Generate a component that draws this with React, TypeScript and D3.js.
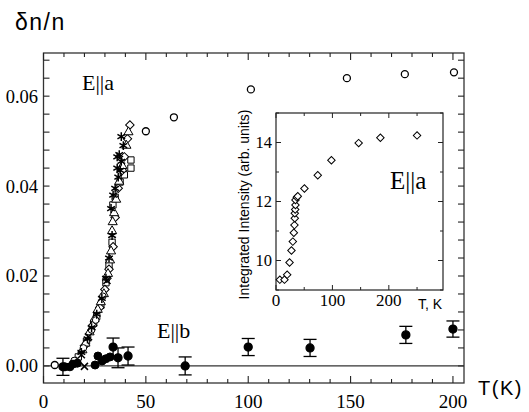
import React, { useEffect } from 'react';
import * as d3 from 'd3';

// main panel, E||a, open circles (T in K, dn/n)
const aCircles: [number, number][] = [
  [5.5, 0.0002], [50.0, 0.0522], [63.7, 0.0553], [101.3, 0.0615],
  [148.2, 0.064], [176.5, 0.0649], [200.5, 0.0653],
];
// steep part of E||a, several sample runs drawn with different symbols
const aTriangles: [number, number][] = [
  [14.5, 0.0008], [19.0, 0.0035], [20.5, 0.005], [22.5, 0.0075], [25.0, 0.0105],
  [26.5, 0.0125], [28.0, 0.0142], [29.5, 0.016], [31.5, 0.0205], [32.5, 0.0235],
  [33.0, 0.0255], [33.5, 0.03], [33.8, 0.032], [34.5, 0.034], [35.5, 0.037],
  [37.0, 0.041], [38.5, 0.0445], [40.5, 0.049], [41.5, 0.052],
];
const aSquares: [number, number][] = [
  [17.0, 0.002], [21.0, 0.0055], [24.5, 0.0095], [26.0, 0.011], [28.0, 0.0135],
  [30.5, 0.0185], [32.0, 0.0225], [33.5, 0.0275], [33.9, 0.0358], [35.0, 0.0375],
  [37.4, 0.0409], [39.5, 0.0425], [42.7, 0.044], [42.7, 0.0458],
];
const aDiamonds: [number, number][] = [
  [16.0, 0.001], [20.0, 0.0045], [24.0, 0.009], [27.5, 0.013], [30.0, 0.017],
  [31.0, 0.0195], [32.0, 0.0215], [34.0, 0.0265], [35.0, 0.033], [36.5, 0.0395],
  [38.5, 0.0435], [39.5, 0.0465], [41.0, 0.0505], [42.2, 0.0536],
];
const aSmallCircles: [number, number][] = [
  [15.0, 0.0012], [19.5, 0.004], [23.5, 0.008], [25.5, 0.0102], [29.0, 0.0155],
];
const aCrosses: [number, number][] = [
  [18.5, 0.0025], [20.0, -0.0001], [22.0, 0.0065], [31.0, 0.019],
];
const aStars: [number, number][] = [
  [18.5, 0.003], [21.5, 0.006], [23.5, 0.0085], [26.0, 0.0115], [28.5, 0.015],
  [30.5, 0.0195], [32.0, 0.024], [33.5, 0.029], [33.0, 0.035], [34.0, 0.038],
  [35.0, 0.0395], [36.5, 0.042], [36.0, 0.044], [38.0, 0.0455], [37.0, 0.047],
  [39.0, 0.049], [38.0, 0.051], [36.0, 0.0465], [37.5, 0.0435],
];

// E||b, filled circles without and with error bars
const bDots: [number, number][] = [
  [10.5, -0.0002], [12.9, -0.0002], [14.4, 0.0004], [16.5, 0.0006], [25.2, 0.0002],
  [26.6, 0.0022], [28.6, 0.0011], [30.5, 0.0016], [32.5, 0.002],
];
const bBars: [number, number, number][] = [
  [9.5, -0.0002, 0.0019], [34.0, 0.0042, 0.002], [36.4, 0.0018, 0.0022],
  [41.3, 0.0022, 0.002], [69.2, 0.0, 0.002], [100.0, 0.0042, 0.0019],
  [130.2, 0.004, 0.0019], [177.0, 0.0069, 0.0019], [200.0, 0.0082, 0.0018],
];

// inset: integrated intensity vs T
const insetT = [6.8, 15, 19.8, 24, 27.4, 29.8, 31.6, 32.7, 33.3, 33.3, 34, 34.5, 34.5, 36.9, 38.6, 50.4, 74, 98.2, 146.5, 185, 250];
const insetI = [9.35, 9.35, 9.52, 9.93, 10.34, 10.64, 10.94, 11.2, 11.43, 11.6, 11.73, 11.88, 12.05, 12.14, 12.18, 12.44, 12.89, 13.4, 13.98, 14.16, 14.24];

const mainXTicks = [0, 50, 100, 150, 200];
const mainYTicks = [0, 0.02, 0.04, 0.06];
const insetXTicks = [0, 100, 200];
const insetYTicks = [10, 12, 14];

const serif = 'Liberation Serif, Times New Roman, serif';
const sans = 'Liberation Sans, Arial, sans-serif';

export default function App() {
  useEffect(() => {
    document.body.style.margin = '0';
  }, []);

  const x = d3.scaleLinear().domain([0, 205.4]).range([43.5, 464]);
  const y = d3.scaleLinear().domain([-0.0038, 0.0696]).range([383, 53]);
  const ix = d3.scaleLinear().domain([0, 296]).range([276, 443]);
  const iy = d3.scaleLinear().domain([9, 15]).range([290, 113]);

  const tri = d3.symbol().type(d3.symbolTriangle).size(36)() as string;
  const sq = d3.symbol().type(d3.symbolSquare).size(40)() as string;
  const dia = d3.symbol().type(d3.symbolSquare).size(36)() as string;
  const star = d3.symbol().type(d3.symbolAsterisk).size(55)() as string;
  const cross = d3.symbol().type(d3.symbolTimes).size(34)() as string;
  const insetDia = d3.symbol().type(d3.symbolSquare).size(28)() as string;

  const [x0, x1] = x.range();
  const [y0, y1] = y.range();
  const minorX = d3.range(0, 206, 10);
  const minorY = d3.range(-0.004, 0.07, 0.004).filter(v => v >= -0.0038);
  const [ix0, ix1] = ix.range();
  const [iy0, iy1] = iy.range();

  return (
    <svg width={529} height={412} style={{ display: 'block', background: '#fff' }}>
      {/* frame */}
      <rect x={x0} y={y1} width={x1 - x0} height={y0 - y1} fill="none" stroke="#333" strokeWidth={1.3} />
      {minorX.map(t => {
        const big = t % 50 === 0;
        const l = big ? 7 : 4;
        return (
          <g key={'tx' + t} stroke="#222" strokeWidth={1.1}>
            <line x1={x(t)} x2={x(t)} y1={y0} y2={y0 - l} />
            <line x1={x(t)} x2={x(t)} y1={y1} y2={y1 + l} />
          </g>
        );
      })}
      {minorY.map((v, i) => (
        <g key={'ty' + i} stroke="#222" strokeWidth={1.1}>
          <line x1={x0} x2={x0 + 6} y1={y(v)} y2={y(v)} />
          <line x1={x1} x2={x1 - 6} y1={y(v)} y2={y(v)} />
        </g>
      ))}
      {mainXTicks.map(t => (
        <text key={'lx' + t} x={x(t)} y={408} fontFamily={serif} fontSize={19} textAnchor="middle">{t}</text>
      ))}
      {mainYTicks.map(v => (
        <text key={'ly' + v} x={38} y={y(v)} dy="0.35em" fontFamily={serif} fontSize={18.5} textAnchor="end">{v.toFixed(2)}</text>
      ))}
      <line x1={x0} x2={x1} y1={y(0)} y2={y(0)} stroke="#333" strokeWidth={1.3} />

      <text x={15} y={30} fontFamily={sans} fontSize={23} letterSpacing={1.5}>δn/n</text>
      <text x={478} y={395} fontFamily={sans} fontSize={20} letterSpacing={1.5}>T(K)</text>
      <text x={82} y={90} fontFamily={serif} fontSize={22}>E||a</text>
      <text x={157} y={338} fontFamily={serif} fontSize={22}>E||b</text>

      {/* E||a data */}
      <g fill="#fff" stroke="#000" strokeWidth={1}>
        {aSquares.map((d, i) => <path key={'s' + i} d={sq} transform={`translate(${x(d[0])},${y(d[1])})`} />)}
        {aDiamonds.map((d, i) => <path key={'d' + i} d={dia} transform={`translate(${x(d[0])},${y(d[1])}) rotate(45)`} />)}
        {aTriangles.map((d, i) => <path key={'t' + i} d={tri} transform={`translate(${x(d[0])},${y(d[1])})`} />)}
        {aSmallCircles.map((d, i) => <circle key={'c' + i} cx={x(d[0])} cy={y(d[1])} r={3.3} />)}
        {aCircles.map((d, i) => <circle key={'o' + i} cx={x(d[0])} cy={y(d[1])} r={3.5} strokeWidth={1.3} />)}
      </g>
      <g fill="none" stroke="#000" strokeWidth={1.5}>
        {aStars.map((d, i) => <path key={'a' + i} d={star} transform={`translate(${x(d[0])},${y(d[1])})`} />)}
        {aCrosses.map((d, i) => <path key={'x' + i} d={cross} transform={`translate(${x(d[0])},${y(d[1])})`} />)}
      </g>

      {/* E||b data */}
      <g fill="#000" stroke="#000">
        {bBars.map((d, i) => (
          <g key={'b' + i} strokeWidth={1.3}>
            <line x1={x(d[0])} x2={x(d[0])} y1={y(d[1] - d[2])} y2={y(d[1] + d[2])} />
            <line x1={x(d[0]) - 6.5} x2={x(d[0]) + 6.5} y1={y(d[1] - d[2])} y2={y(d[1] - d[2])} />
            <line x1={x(d[0]) - 6.5} x2={x(d[0]) + 6.5} y1={y(d[1] + d[2])} y2={y(d[1] + d[2])} />
            <circle cx={x(d[0])} cy={y(d[1])} r={4} />
          </g>
        ))}
        {bDots.map((d, i) => <circle key={'f' + i} cx={x(d[0])} cy={y(d[1])} r={4} />)}
      </g>

      {/* inset */}
      <rect x={ix0} y={iy1} width={ix1 - ix0} height={iy0 - iy1} fill="#fff" stroke="#222" strokeWidth={1.2} />
      {d3.range(0, 296, 50).map(t => (
        <g key={'itx' + t} stroke="#222" strokeWidth={1}>
          <line x1={ix(t)} x2={ix(t)} y1={iy0} y2={iy0 - (t % 100 === 0 ? 5 : 3)} />
          <line x1={ix(t)} x2={ix(t)} y1={iy1} y2={iy1 + (t % 100 === 0 ? 5 : 3)} />
        </g>
      ))}
      {d3.range(9, 15.01, 1).map(v => (
        <g key={'ity' + v} stroke="#222" strokeWidth={1}>
          <line x1={ix0} x2={ix0 + (v % 2 === 0 ? 5 : 3)} y1={iy(v)} y2={iy(v)} />
          <line x1={ix1} x2={ix1 - (v % 2 === 0 ? 5 : 3)} y1={iy(v)} y2={iy(v)} />
        </g>
      ))}
      {insetXTicks.map(t => (
        <text key={'ilx' + t} x={ix(t)} y={306} fontFamily={serif} fontSize={17} textAnchor="middle">{t}</text>
      ))}
      {insetYTicks.map(v => (
        <text key={'ily' + v} x={272} y={iy(v)} dy="0.35em" fontFamily={serif} fontSize={16.5} textAnchor="end">{v}</text>
      ))}
      <text x={418} y={309} fontFamily={sans} fontSize={14}>T, K</text>
      <text transform={`translate(249,${(iy0 + iy1) / 2 + 3}) rotate(-90)`} fontFamily={sans} fontSize={14} textAnchor="middle">
        Integrated Intensity (arb. units)
      </text>
      <text x={390} y={189} fontFamily={serif} fontSize={25}>E||a</text>
      <g fill="#fff" stroke="#000" strokeWidth={1}>
        {insetT.map((t, i) => (
          <path key={'id' + i} d={insetDia} transform={`translate(${ix(t)},${iy(insetI[i])}) rotate(45)`} />
        ))}
      </g>
    </svg>
  );
}
